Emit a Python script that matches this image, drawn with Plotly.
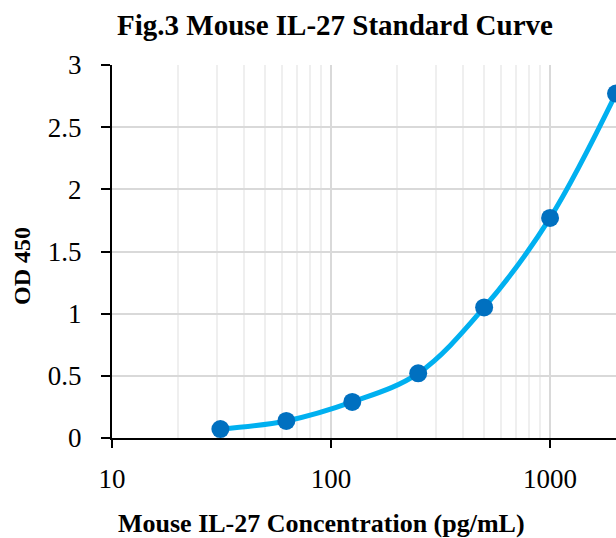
import math
import plotly.graph_objects as go

# Data
concentration = [31.25, 62.5, 125, 250, 500, 1000, 2000]
od450 = [0.072, 0.137, 0.29, 0.52, 1.05, 1.77, 2.77]
y_ticks = [0, 0.5, 1, 1.5, 2, 2.5, 3]
y_tick_labels = ["0", "0.5", "1", "1.5", "2", "2.5", "3"]
x_ticks = [10, 100, 1000]
x_tick_labels = ["10", "100", "1000"]

title_text = "<b>Fig.3 Mouse IL-27 Standard Curve</b>"
x_title = "<b>Mouse IL-27 Concentration (pg/mL)</b>"
y_title = "<b>OD 450</b>"

FONT = "Liberation Serif, Times New Roman, serif"

fig = go.Figure()
fig.add_trace(go.Scatter(
    x=concentration, y=od450,
    mode="lines",
    line=dict(color="#00B0F0", width=5, shape="spline", smoothing=1),
    cliponaxis=False, showlegend=False, hoverinfo="skip",
))
fig.add_trace(go.Scatter(
    x=concentration, y=od450,
    mode="markers",
    marker=dict(color="#0070C0", size=18),
    cliponaxis=False, showlegend=False,
))

fig.update_layout(
    width=616, height=538,
    margin=dict(l=112, r=0, t=65, b=100, pad=0),
    paper_bgcolor="white", plot_bgcolor="white",
    font=dict(family=FONT, color="black"),
    title=dict(text=title_text, font=dict(size=29, family=FONT, color="black"),
               x=335/616, xanchor="center", xref="container",
               y=1 - 25/538, yanchor="middle", yref="container"),
    annotations=[
        dict(text=x_title, xref="paper", yref="paper",
             x=(321 - 112) / 504, y=-(523 - 438) / 373,
             xanchor="center", yanchor="middle", showarrow=False,
             font=dict(size=26, family=FONT, color="black")),
        dict(text=y_title, xref="paper", yref="paper",
             x=(22 - 112) / 504, y=(438 - 266) / 373,
             xanchor="center", yanchor="middle", showarrow=False, textangle=-90,
             font=dict(size=24, family=FONT, color="black")),
    ],
)

fig.update_xaxes(
    type="log", range=[1, math.log10(max(concentration))],
    tickvals=x_ticks, ticktext=x_tick_labels,
    tickfont=dict(size=27, family=FONT, color="black"),
    ticks="outside", ticklen=8, tickwidth=2, tickcolor="black",
    showline=True, linecolor="black", linewidth=2,
    showgrid=True, gridcolor="#d9d9d9", gridwidth=1.5,
    minor=dict(dtick="D1", showgrid=True, gridcolor="#efefef", gridwidth=1.5, ticks=""),
    zeroline=False, ticklabelstandoff=8,
)
fig.update_yaxes(
    range=[0, 3],
    tickvals=y_ticks, ticktext=y_tick_labels,
    tickfont=dict(size=27, family=FONT, color="black"),
    ticks="outside", ticklen=9, tickwidth=2, tickcolor="black",
    showline=True, linecolor="black", linewidth=2,
    showgrid=True, gridcolor="#d9d9d9", gridwidth=1.5,
    zeroline=False, ticklabelstandoff=14,
)

fig.write_html(
    "out.html",
    config={"displayModeBar": False},
    post_script="document.body.style.margin='0';document.body.style.overflow='hidden';",
)
